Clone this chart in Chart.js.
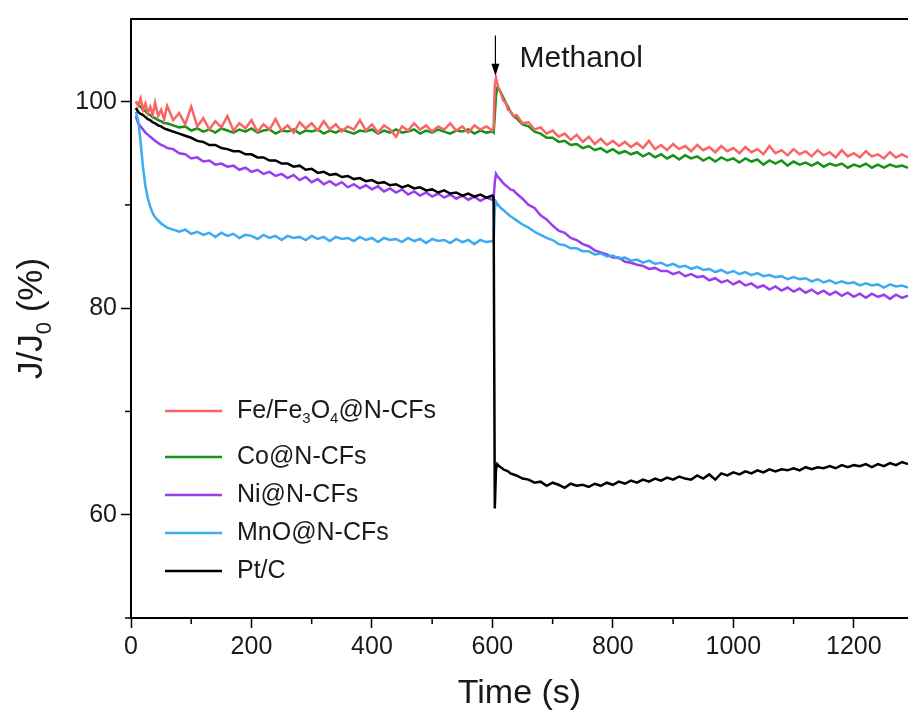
<!DOCTYPE html>
<html>
<head>
<meta charset="utf-8">
<script src="https://cdn.jsdelivr.net/npm/chart.js@4.4.1/dist/chart.umd.min.js"></script>
<style>
html,body{margin:0;padding:0;background:#fff;}
canvas{display:block;}
</style>
</head>
<body>
<canvas id="c" width="908" height="714" style="width:908px;height:714px"></canvas>
<script>
// ---- data (time in s, J/J0 in %) ----
const time = [8,12,16,20,24,28,32,36,40,45,50,55,60,
70,80,90,100,110,120,130,140,150,160,170,180,190,200,210,220,230,240,250,260,270,280,290,300,
310,320,330,340,350,360,370,380,390,400,410,420,430,440,450,460,470,480,490,500,510,520,530,540,
550,560,570,580,590,600,
602,604,606,608,611,614,618,622,626,630,635,
640,650,660,670,680,690,700,710,720,730,740,750,760,770,780,790,800,810,820,830,840,850,860,870,
880,890,900,910,920,930,940,950,960,970,980,990,1000,1010,1020,1030,1040,1050,1060,1070,1080,1090,
1100,1110,1120,1130,1140,1150,1160,1170,1180,1190,1200,1210,1220,1230,1240,1250,1260,1270,1280,1290];

const feFe3O4 = [100.0,99.6,100.3,99.2,99.8,98.9,99.5,98.7,99.9,98.6,99.2,98.3,99.6,
98.2,98.9,97.8,99.5,97.6,98.4,97.3,98.1,97.5,98.6,
97.2,97.9,97.4,98.2,97.1,97.8,97.3,98.3,97.2,97.7,
97.0,98.0,97.4,97.9,97.2,98.1,97.3,97.8,97.1,97.6,
97.3,98.2,97.2,97.8,97.0,97.7,97.3,96.6,97.6,97.2,
97.9,97.3,97.7,97.1,97.6,97.3,97.9,97.2,97.6,97.0,
97.7,97.3,97.6,97.2,
97.5,101.6,102.3,101.8,101.2,100.8,100.1,99.9,99.2,99.1,98.6,
98.7,97.9,98.0,97.3,97.5,96.9,97.2,96.6,96.9,96.3,
96.8,96.1,96.6,95.9,96.4,95.8,96.2,95.7,96.1,95.6,
96.0,95.5,96.2,95.4,95.8,95.3,95.9,95.4,95.7,95.2,
95.8,95.3,95.6,95.1,95.7,95.2,95.5,95.0,95.6,95.1,
95.4,94.9,95.7,95.0,95.3,94.8,95.4,94.9,95.2,94.7,
95.3,94.8,95.1,94.6,95.3,94.7,95.0,94.6,95.2,94.7,
94.9,94.5,95.1,94.6,94.9,94.6];

const coNCF = [100.0,99.7,99.5,99.2,99.1,98.8,98.7,98.5,98.4,98.2,98.1,97.9,97.9,
97.7,97.5,97.6,97.2,97.4,97.1,97.3,97.0,97.4,97.2,
97.0,97.3,97.1,97.4,97.0,97.2,97.3,96.9,97.2,97.1,
97.3,96.9,97.2,97.1,97.3,96.9,97.2,97.0,97.3,97.1,
96.9,97.2,97.1,97.3,96.9,97.2,97.0,97.3,97.0,97.1,
97.3,96.9,97.2,97.0,97.3,97.1,96.9,97.2,97.1,97.3,
96.9,97.2,97.0,97.1,
97.0,98.6,100.6,101.3,101.2,100.9,100.4,99.9,99.5,99.0,98.6,
98.4,97.8,97.6,97.1,96.9,96.5,96.5,96.1,96.2,95.8,
95.9,95.5,95.7,95.3,95.5,95.1,95.4,95.0,95.2,94.9,
95.1,94.7,95.0,94.6,94.9,94.5,94.8,94.4,94.8,94.5,
94.7,94.3,94.6,94.2,94.6,94.3,94.5,94.1,94.5,94.2,
94.4,93.9,94.3,94.0,94.3,93.8,94.2,93.9,94.1,93.8,
94.1,93.7,94.0,93.8,94.0,93.6,93.9,93.7,94.0,93.6,
93.9,93.6,93.9,93.7,93.8,93.6];

const niNCF = [98.6,97.9,97.6,97.3,97.0,96.8,96.6,96.4,96.2,96.0,95.8,95.7,95.5,
95.4,95.0,94.9,94.5,94.6,94.2,94.3,93.9,94.0,93.7,
93.8,93.4,93.6,93.2,93.4,93.0,93.2,92.8,93.0,92.6,
92.9,92.4,92.7,92.2,92.5,92.0,92.3,91.9,92.2,91.7,
92.0,91.6,91.9,91.5,91.8,91.3,91.6,91.2,91.5,91.0,
91.3,90.9,91.2,90.8,91.1,90.7,91.0,90.6,90.9,90.5,
90.8,90.4,90.7,90.5,
90.6,92.2,93.0,92.8,92.6,92.4,92.1,91.9,91.7,91.5,91.4,
91.1,90.6,90.0,89.7,89.0,88.6,88.0,87.5,87.3,86.8,
86.6,86.2,86.0,85.6,85.4,85.2,84.9,84.9,84.5,84.4,
84.2,84.1,83.8,83.9,83.6,83.6,83.3,83.5,83.1,83.3,
83.0,83.1,82.7,82.9,82.5,82.7,82.3,82.6,82.2,82.4,
82.0,82.2,81.8,82.1,81.7,82.0,81.6,81.9,81.5,81.8,
81.4,81.7,81.3,81.6,81.2,81.5,81.1,81.4,81.0,81.4,
81.1,81.3,80.9,81.3,81.0,81.2];

const mnoNCF = [99.0,98.2,96.0,93.6,91.8,90.6,89.8,89.2,88.8,88.5,88.2,88.0,87.8,
87.6,87.4,87.6,87.2,87.4,87.1,87.3,86.9,87.3,87.0,
87.2,86.8,87.1,87.0,86.7,87.1,86.8,87.0,86.6,87.0,
86.8,86.9,86.6,87.0,86.7,86.9,86.5,86.9,86.7,86.8,
86.5,86.9,86.6,86.8,86.4,86.8,86.6,86.7,86.4,86.8,
86.5,86.7,86.3,86.7,86.5,86.6,86.3,86.7,86.4,86.6,
86.2,86.6,86.4,86.5,
86.4,89.6,90.3,90.1,89.9,89.7,89.5,89.3,89.1,88.9,88.7,
88.5,88.1,87.8,87.4,87.1,86.8,86.6,86.2,86.1,85.8,
85.8,85.5,85.5,85.2,85.3,85.0,85.1,84.8,84.9,84.6,
84.7,84.4,84.6,84.3,84.4,84.1,84.3,84.0,84.1,83.8,
84.0,83.7,83.8,83.5,83.7,83.4,83.6,83.3,83.5,83.2,
83.4,83.1,83.2,83.0,83.1,82.8,83.0,82.8,82.9,82.6,
82.8,82.5,82.7,82.4,82.6,82.4,82.5,82.2,82.4,82.2,
82.3,82.0,82.3,82.1,82.2,82.0];

const ptC = [99.4,99.0,98.8,98.7,98.5,98.3,98.2,98.0,97.9,97.7,97.6,97.4,97.3,
97.1,96.9,96.7,96.5,96.2,96.1,95.8,95.8,95.5,95.4,
95.2,95.2,94.9,94.9,94.6,94.6,94.3,94.3,94.0,94.0,
93.7,93.8,93.4,93.5,93.1,93.2,92.9,93.0,92.7,92.8,
92.5,92.6,92.3,92.4,92.1,92.2,91.9,92.0,91.7,91.9,
91.6,91.7,91.4,91.5,91.2,91.4,91.1,91.2,90.9,91.1,
90.8,91.0,90.7,90.9,
90.7,60.6,64.4,64.9,64.7,64.6,64.4,64.3,64.2,64.0,63.9,
63.8,63.5,63.4,63.1,63.2,62.8,63.1,62.9,62.6,63.0,
62.8,62.9,62.7,63.0,62.8,63.1,62.9,63.2,63.0,63.3,
63.1,63.4,63.2,63.5,63.3,63.6,63.4,63.7,63.5,63.4,
63.8,63.5,63.9,63.4,64.0,63.8,64.1,63.9,64.2,64.0,
64.3,64.1,64.4,64.2,64.4,64.3,64.5,64.3,64.6,64.4,
64.6,64.5,64.7,64.5,64.8,64.6,64.8,64.7,64.9,64.6,
64.9,64.7,65.0,64.8,65.1,64.9];

const seriesNames = ['Fe/Fe3O4@N-CFs','Co@N-CFs','Ni@N-CFs','MnO@N-CFs','Pt/C'];
const xTicks = [0,200,400,600,800,1000,1200];
const yTicks = [60,80,100];
const xMinor = [100,300,500,700,900,1100];
const yMinor = [50,70,90];

// ---- styling ----
const colors = ['#fa6464','#169216','#9a3cf0','#3cabf2','#000000'];
const drawOrder = [1,2,4,3,0];
const FONT = "'Liberation Sans', Arial, sans-serif";
const values = [feFe3O4, coNCF, niNCF, mnoNCF, ptC];

function pts(v){ return time.map((t,i)=>({x:t,y:v[i]})); }

const datasets = values.map((v,i)=>({
  label: seriesNames[i],
  data: pts(v),
  borderColor: colors[i],
  backgroundColor: colors[i],
  borderWidth: 2.5,
  pointRadius: 0,
  tension: 0,
  fill: false,
  order: drawOrder[i]
}));

const extras = {
  id: 'extras',
  afterDraw(chart){
    const ctx = chart.ctx, a = chart.chartArea;
    const xs = chart.scales.x, ys = chart.scales.y;
    ctx.save();
    ctx.strokeStyle = '#000';
    ctx.lineWidth = 2;
    // top frame line
    ctx.beginPath(); ctx.moveTo(a.left, a.top); ctx.lineTo(a.right, a.top); ctx.stroke();
    // minor ticks
    ctx.lineWidth = 1.5;
    xMinor.forEach(v=>{ const px = xs.getPixelForValue(v); ctx.beginPath(); ctx.moveTo(px, a.bottom); ctx.lineTo(px, a.bottom+6); ctx.stroke(); });
    yMinor.forEach(v=>{ const py = ys.getPixelForValue(v); ctx.beginPath(); ctx.moveTo(a.left, py); ctx.lineTo(a.left-6, py); ctx.stroke(); });

    // Methanol arrow
    const ax = xs.getPixelForValue(605);
    const y1 = ys.getPixelForValue(106.4), y2 = ys.getPixelForValue(102.5);
    ctx.lineWidth = 1.2;
    ctx.beginPath(); ctx.moveTo(ax, y1); ctx.lineTo(ax, y2-6); ctx.stroke();
    ctx.fillStyle = '#000';
    ctx.beginPath(); ctx.moveTo(ax-4, y2-12); ctx.lineTo(ax+4, y2-12); ctx.lineTo(ax, y2); ctx.closePath(); ctx.fill();
    ctx.font = '30px ' + FONT;
    ctx.fillStyle = '#1a1a1a';
    ctx.textBaseline = 'alphabetic';
    ctx.textAlign = 'left';
    ctx.fillText('Methanol', xs.getPixelForValue(645), ys.getPixelForValue(103.4));

    // legend
    const rows = [411, 457, 495, 533, 571];
    ctx.textBaseline = 'middle';
    rows.forEach((ry,i)=>{
      ctx.strokeStyle = colors[i]; ctx.lineWidth = 2.5;
      ctx.beginPath(); ctx.moveTo(165, ry); ctx.lineTo(222, ry); ctx.stroke();
      ctx.fillStyle = '#1a1a1a';
      if (i === 0) {
        let x = 237;
        const parts = [['Fe/Fe',0],['3',1],['O',0],['4',1],['@N-CFs',0]];
        parts.forEach(([s,sub])=>{
          ctx.font = (sub ? '15px ' : '25px ') + FONT;
          ctx.fillText(s, x, ry + (sub ? 8 : 0));
          x += ctx.measureText(s).width;
        });
      } else {
        ctx.font = '25px ' + FONT;
        ctx.fillText(seriesNames[i], 237, ry);
      }
    });

    // y axis title with subscript
    ctx.save();
    ctx.translate(42, (a.top + a.bottom)/2);
    ctx.rotate(-Math.PI/2);
    ctx.fillStyle = '#1a1a1a';
    ctx.textBaseline = 'alphabetic';
    const yparts = [['J/J',0],['0',1],[' (%)',0]];
    let w = 0;
    yparts.forEach(([s,sub])=>{ ctx.font = (sub?'22px ':'35px ')+FONT; w += ctx.measureText(s).width; });
    let x = -w/2;
    yparts.forEach(([s,sub])=>{
      ctx.font = (sub?'22px ':'35px ')+FONT;
      ctx.fillText(s, x, sub ? 9 : 0);
      x += ctx.measureText(s).width;
    });
    ctx.restore();
    ctx.restore();
  }
};

new Chart(document.getElementById('c'), {
  type: 'line',
  data: { datasets },
  options: {
    responsive: false,
    devicePixelRatio: 1,
    animation: false,
    layout: { padding: { top: 18, right: 0, left: 0, bottom: 0 } },
    plugins: { legend: { display: false }, tooltip: { enabled: false } },
    scales: {
      x: {
        type: 'linear', min: 0, max: 1290,
        afterBuildTicks: s => { s.ticks = xTicks.map(v=>({value:v})); },
        afterFit: s => { s.height = 96; },
        ticks: { font: { size: 25, family: FONT }, color: '#1a1a1a', padding: 4, maxRotation: 0, autoSkip: false, callback: v => String(v) },
        grid: { drawOnChartArea: false, drawTicks: true, tickLength: 10, tickWidth: 1.5, tickColor: '#000' },
        border: { display: true, color: '#000', width: 2 },
        title: { display: true, text: 'Time (s)', font: { size: 34, family: FONT }, color: '#1a1a1a', padding: { top: 0, bottom: 0 } }
      },
      y: {
        type: 'linear', min: 50, max: 108,
        afterBuildTicks: s => { s.ticks = yTicks.map(v=>({value:v})); },
        afterFit: s => { s.width = 131; },
        ticks: { font: { size: 25, family: FONT }, color: '#1a1a1a', padding: 4, callback: v => String(v) },
        grid: { drawOnChartArea: false, drawTicks: true, tickLength: 10, tickWidth: 1.5, tickColor: '#000' },
        border: { display: true, color: '#000', width: 2 }
      }
    }
  },
  plugins: [extras]
});
</script>
</body>
</html>
